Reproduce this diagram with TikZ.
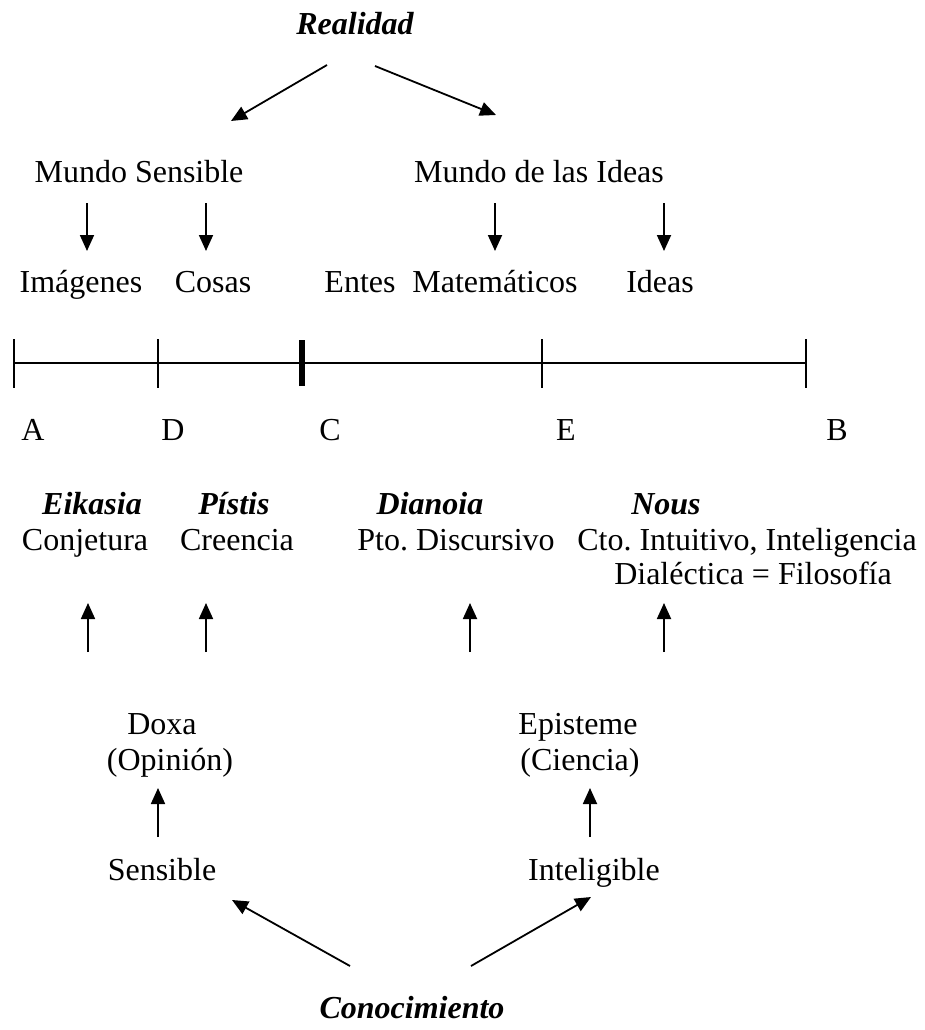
\documentclass[tikz,border=0pt]{standalone}
\usepackage{fontspec}
\setmainfont{Liberation Serif}
\usetikzlibrary{arrows.meta}
\frenchspacing
\begin{document}
\begin{tikzpicture}[x=1pt,y=-1pt,
  txt/.style={font=\fontsize{32}{35}\selectfont\frenchspacing, inner sep=0pt, anchor=base},
  ttl/.style={txt, font=\fontsize{32}{35}\selectfont\bfseries\itshape},
  arr/.style={line width=1.8pt, -{Triangle[length=16pt,width=14pt]}},
  seg/.style={line width=1.7pt},
  tick/.style={line width=1.7pt},
  thicktick/.style={line width=6.5pt}]
\useasboundingbox (0,0) rectangle (924,1030);
% top
\node[ttl] (real) at (355,35) {Realidad};
\coordinate (r1) at (327,65); \coordinate (r1e) at (231,121);
\coordinate (r2) at (375,66); \coordinate (r2e) at (496,115);
\draw[arr] (r1) -- (r1e);
\draw[arr] (r2) -- (r2e);
\node[txt] (ms) at (139,182) {Mundo Sensible};
\node[txt] (mi) at (539,182) {Mundo de las Ideas};
% down arrows
\foreach \n/\x in {d1/87,d2/206,d3/495,d4/664}{
  \coordinate (\n s) at (\x,203); \coordinate (\n e) at (\x,251);
  \draw[arr] (\n s) -- (\n e);
}
\node[txt] (img) at (81,292) {Imágenes};
\node[txt] (cos) at (213,292) {Cosas};
\node[txt] (ent) at (360,292) {Entes};
\node[txt] (mat) at (495,292) {Matemáticos};
\node[txt] (ide) at (660,292) {Ideas};
% segment
\coordinate (A) at (14,363); \coordinate (D) at (158,363);
\coordinate (C) at (302,363); \coordinate (E) at (542,363);
\coordinate (B) at (806,363);
\draw[seg] (A) -- (B);
\foreach \p in {A,D,E,B}{\draw[tick] ([yshift=-24.5pt]\p) -- ([yshift=24.5pt]\p);}
\draw[thicktick] ([yshift=-23pt]C) -- ([yshift=23pt]C);
\node[txt] (lA) at (33,440) {A};
\node[txt] (lD) at (173,440) {D};
\node[txt] (lC) at (330,440) {C};
\node[txt] (lE) at (566,440) {E};
\node[txt] (lB) at (837,440) {B};
% levels
\node[ttl] (eik) at (92,514) {Eikasia};
\node[ttl] (pis) at (234,514) {Pístis};
\node[ttl] (dia) at (430,514) {Dianoia};
\node[ttl] (nou) at (666,514) {Nous};
\node[txt] (con) at (85,550) {Conjetura};
\node[txt] (cre) at (237,550) {Creencia};
\node[txt] (pto) at (456,550) {Pto. Discursivo};
\node[txt] (cto) at (747,550) {Cto. Intuitivo, Inteligencia};
\node[txt] (dlc) at (753,584) {Dialéctica = Filosofía};
\foreach \n/\x in {u1/88,u2/206,u3/470,u4/664}{
  \coordinate (\n s) at (\x,652); \coordinate (\n e) at (\x,603);
  \draw[arr] (\n s) -- (\n e);
}
\node[txt] (dox) at (162,734) {Doxa};
\node[txt] (opi) at (170,770) {(Opinión)};
\node[txt] (epi) at (578,734) {Episteme};
\node[txt] (cie) at (580,770) {(Ciencia)};
\coordinate (v1s) at (158,837); \coordinate (v1e) at (158,788);
\coordinate (v2s) at (590,837); \coordinate (v2e) at (590,788);
\draw[arr] (v1s) -- (v1e);
\draw[arr] (v2s) -- (v2e);
\node[txt] (sen) at (162,880) {Sensible};
\node[txt] (int) at (594,880) {Inteligible};
\coordinate (c1) at (350,966); \coordinate (c1e) at (232,900);
\coordinate (c2) at (471,966); \coordinate (c2e) at (591,897);
\draw[arr] (c1) -- (c1e);
\draw[arr] (c2) -- (c2e);
\node[ttl] (cono) at (412,1018) {Conocimiento};
\end{tikzpicture}
\end{document}
